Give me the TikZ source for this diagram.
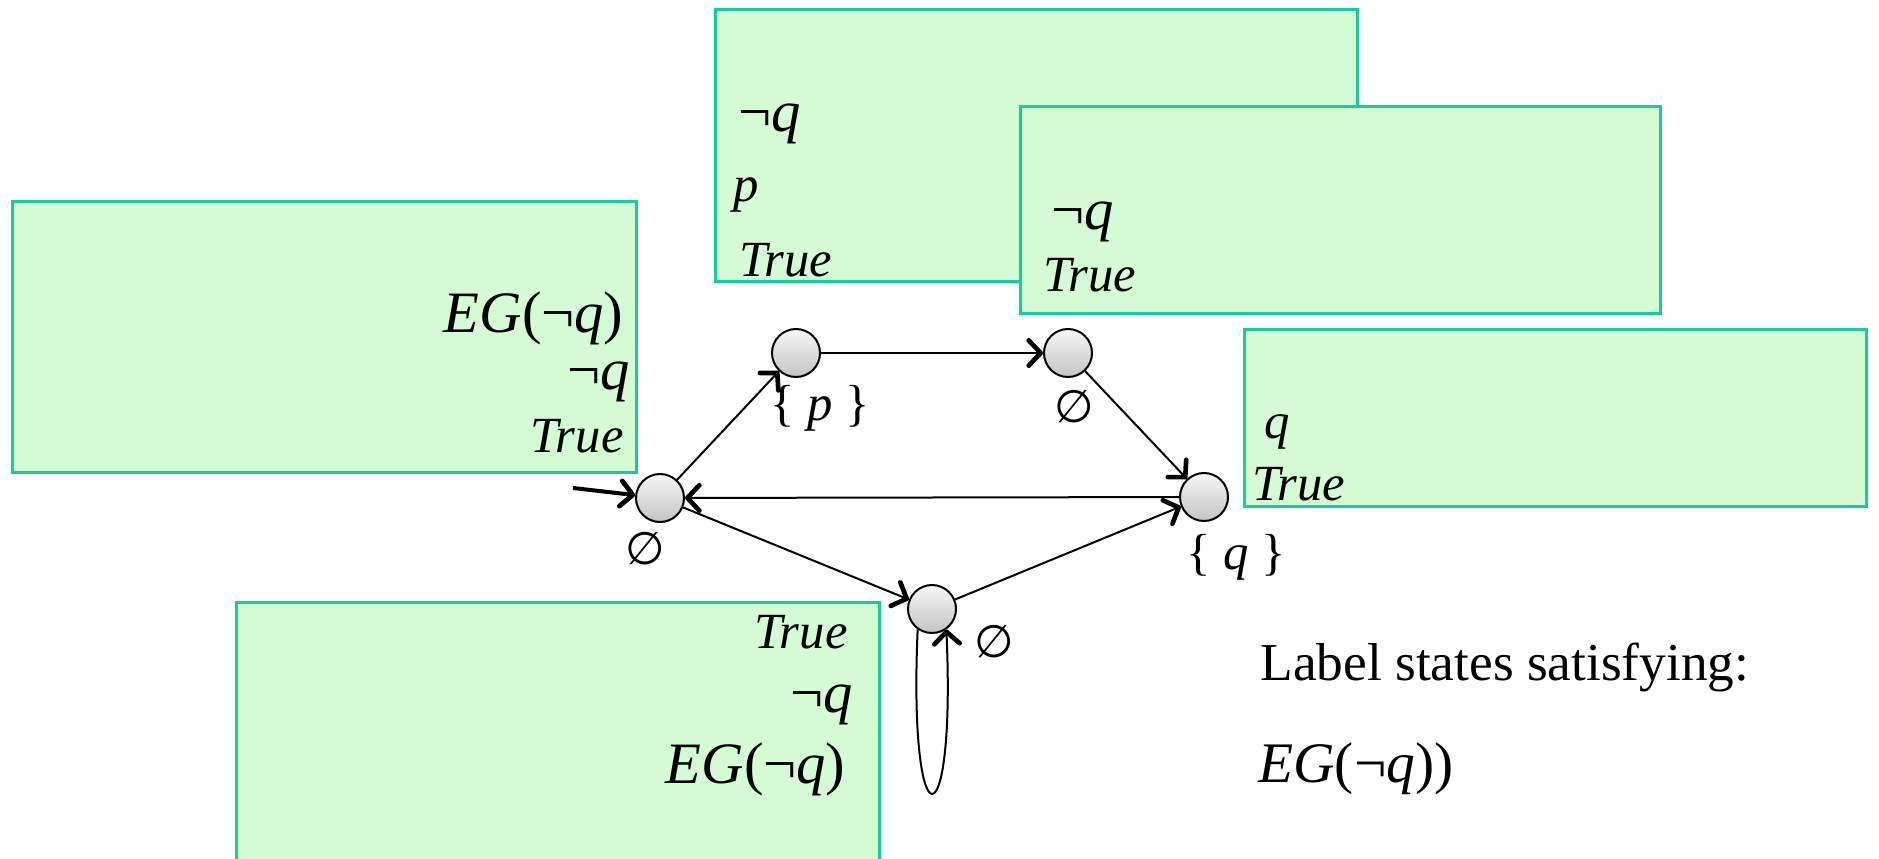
\documentclass[tikz,border=0pt]{standalone}
\usepackage{fontspec}
\setmainfont{Liberation Serif}
\newfontfamily\symfont{DejaVu Sans}
\usetikzlibrary{arrows.meta,shadows}
\definecolor{boxfill}{RGB}{213,251,213}
\definecolor{boxline}{RGB}{20,205,160}
\definecolor{statetop}{RGB}{247,247,247}
\definecolor{statebot}{RGB}{196,196,196}
\newcommand{\txt}{\fontsize{38}{44}\selectfont}
\newcommand{\fmltxt}{\fontsize{44}{50}\selectfont}
\newcommand{\captxt}{\fontsize{40}{46}\selectfont}
\newcommand{\nq}{¬\textit{q}}
\newcommand{\egnq}{\textit{EG}(¬\textit{q})}

\tikzset{every picture/.style={line width=0.75pt}}
\tikzset{
  state/.style={circle, draw, line width=1.5pt, minimum size=36pt, inner sep=0pt, top color=statetop, bottom color=statebot},
  annot/.style={draw=boxline, fill=boxfill, line width=2.25pt, drop shadow={opacity=0.18, shadow xshift=1.5pt, shadow yshift=-1.5pt}},
  edge/.style={line width=1.5pt, -{Straight Barb[length=9pt,width=19pt,line width=3.5pt 0 1,round]}},
  initedge/.style={line width=3pt, -{Straight Barb[length=9pt,width=19pt,line width=3.6pt 0 1,round]}},
}

\begin{document}
\begin{tikzpicture}[x=0.75pt,y=0.75pt,yscale=-1,xscale=1]
\useasboundingbox (0,0) rectangle (1879,859);

%Shape: Rectangle [annotation boxes]
\draw [annot] (12,202) rectangle (636,472);
\draw [annot] (715,10) rectangle (1357,282);
\draw [annot] (1020,107) rectangle (1660,314);
\draw [annot] (1244,330) rectangle (1866,506);
\draw [annot] (236,602) rectangle (879,863);

%Shape: Circle [states]
\node [state] (s0) at (660,498) {};
\node [state] (s1) at (796,353) {};
\node [state] (s2) at (1068,353) {};
\node [state] (s3) at (1204,497) {};
\node [state] (s4) at (932,609) {};

\coordinate (init) at (573,488);

%Straight Lines [transitions]
\draw [initedge] (init) -- (s0);
\draw [edge] (s0) -- (s1);
\draw [edge] (s1) -- (s2);
\draw [edge] (s2) -- (s3);
\draw [edge] (s3) -- (s0);
\draw [edge] (s0) -- (s4);
\draw [edge] (s4) -- (s3);
%Curve Lines [self loop]
\draw [edge] (s4.235) .. controls (908,848) and (956,848) .. (s4.305);

% Text Node
\draw (645,549) node (l0) [inner sep=0.75pt] {\symfont\fontsize{34}{40}\selectfont ∅};
% Text Node
\draw (820,408) node (l1) [inner sep=0.75pt] {\txt \{ \textit{p} \}};
% Text Node
\draw (1074,407) node (l2) [inner sep=0.75pt] {\symfont\fontsize{34}{40}\selectfont ∅};
% Text Node
\draw (1236,557) node (l3) [inner sep=0.75pt] {\txt \{ \textit{q} \}};
% Text Node
\draw (994,642) node (l4) [inner sep=0.75pt] {\symfont\fontsize{34}{40}\selectfont ∅};

% Text Node
\draw (624,333) node (a1) [anchor=base east][inner sep=0pt] {\fmltxt\egnq};
\draw (630,390) node (a2) [anchor=base east][inner sep=0pt] {\fmltxt\nq};
\draw (624,452) node (a3) [anchor=base east][inner sep=0pt] {\txt\textit{True}};
% Text Node
\draw (738,132) node (b1) [anchor=base west][inner sep=0pt] {\fmltxt\nq};
\draw (733,202) node (b2) [anchor=base west][inner sep=0pt] {\txt\textit{p}};
\draw (739,277) node (b3) [anchor=base west][inner sep=0pt] {\txt\textit{True}};
% Text Node
\draw (1051,230) node (c1) [anchor=base west][inner sep=0pt] {\fmltxt\nq};
\draw (1043,292) node (c2) [anchor=base west][inner sep=0pt] {\txt\textit{True}};
% Text Node
\draw (1264,438) node (d1) [anchor=base west][inner sep=0pt] {\txt\textit{q}};
\draw (1252,500) node (d2) [anchor=base west][inner sep=0pt] {\txt\textit{True}};
% Text Node
\draw (848,648) node (e1) [anchor=base east][inner sep=0pt] {\txt\textit{True}};
\draw (853,712) node (e2) [anchor=base east][inner sep=0pt] {\fmltxt\nq};
\draw (846,783) node (e3) [anchor=base east][inner sep=0pt] {\fmltxt\egnq};

% Text Node
\draw (1260,680) node (cap1) [anchor=base west][inner sep=0pt] {\captxt Label states satisfying:};
\draw (1258,782) node (cap2) [anchor=base west][inner sep=0pt] {\fontsize{43}{50}\selectfont\egnq)};

\end{tikzpicture}
\end{document}
